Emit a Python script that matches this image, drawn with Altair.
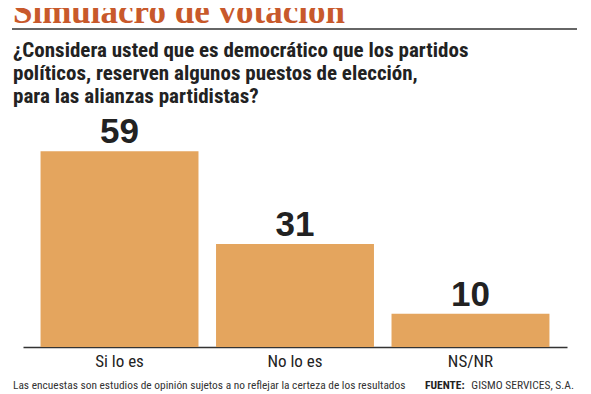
import altair as alt
import pandas as pd

categories = ["Si lo es", "No lo es", "NS/NR"]
values = [59, 31, 10]

title_text = "Simulacro de votación"
subtitle_lines = [
    "¿Considera usted que es democrático que los partidos",
    "políticos, reserven algunos puestos de elección,",
    "para las alianzas partidistas?",
]
footnote = "Las encuestas son estudios de opinión sujetos a no reflejar la certeza de los resultados"
source_label = "FUENTE:"
source_text = "GISMO SERVICES, S.A."

df = pd.DataFrame({"cat": categories, "val": values})

W, H = 544, 239
NARROW = "Liberation Sans Narrow, Roboto Condensed, Liberation Sans, sans-serif"

x = alt.X("cat:N", sort=categories,
          scale=alt.Scale(paddingInner=0.1, paddingOuter=0.1),
          axis=alt.Axis(title=None, labelAngle=0, ticks=False, domainColor="#333333",
                        domainWidth=1.5, labelFont=NARROW, labelFontSize=17,
                        labelColor="#222222", labelPadding=6))
y = alt.Y("val:Q", scale=alt.Scale(domain=[0, 72], nice=False), axis=None)

base = alt.Chart(df)
bars = base.mark_bar(color="#e4a55e").encode(x=x, y=y)
labels = base.mark_text(baseline="alphabetic", dy=-8, font="Liberation Sans",
                        fontWeight="bold", fontSize=35, color="#222222").encode(
    x=alt.X("cat:N", sort=categories), y=alt.Y("val:Q"), text="val:Q")

def txt(s, xv, yv, **kw):
    return alt.Chart(pd.DataFrame({"t": [s]})).mark_text(**kw).encode(
        x=alt.value(xv), y=alt.value(yv), text="t:N")

title = txt(title_text, -10, -85, align="left", baseline="alphabetic",
            font="Liberation Serif", fontWeight="bold", fontSize=35, color="#c8592b")
rule = alt.Chart(pd.DataFrame({"a": [0]})).mark_rule(color="#333333", strokeWidth=1.5).encode(
    x=alt.value(-11), x2=alt.value(554), y=alt.value(-79))
subs = [txt(s, -10, yy, align="left", baseline="alphabetic", font=NARROW,
            fontWeight="bold", fontSize=21, color="#222222")
        for s, yy in zip(subtitle_lines, [-51, -28, -5])]
foot = txt(footnote, -10, 281, align="left", baseline="alphabetic", font=NARROW,
           fontSize=11.4, color="#333333")
src1 = txt(source_label, 402, 281, align="left", baseline="alphabetic", font=NARROW,
           fontWeight="bold", fontSize=11.5, color="#222222")
src2 = txt(source_text, 551, 281, align="right", baseline="alphabetic", font=NARROW,
           fontSize=11.5, color="#333333")

chart = alt.layer(bars, labels, title, rule, *subs, foot, src1, src2).properties(
    width=W, height=H,
    autosize=alt.AutoSizeParams(type="none"),
    padding={"left": 15, "top": 100, "right": 10, "bottom": 46},
).configure(background="white").configure_view(stroke=None)

chart.save("out.html", embed_options={"renderer": "svg", "actions": False})
